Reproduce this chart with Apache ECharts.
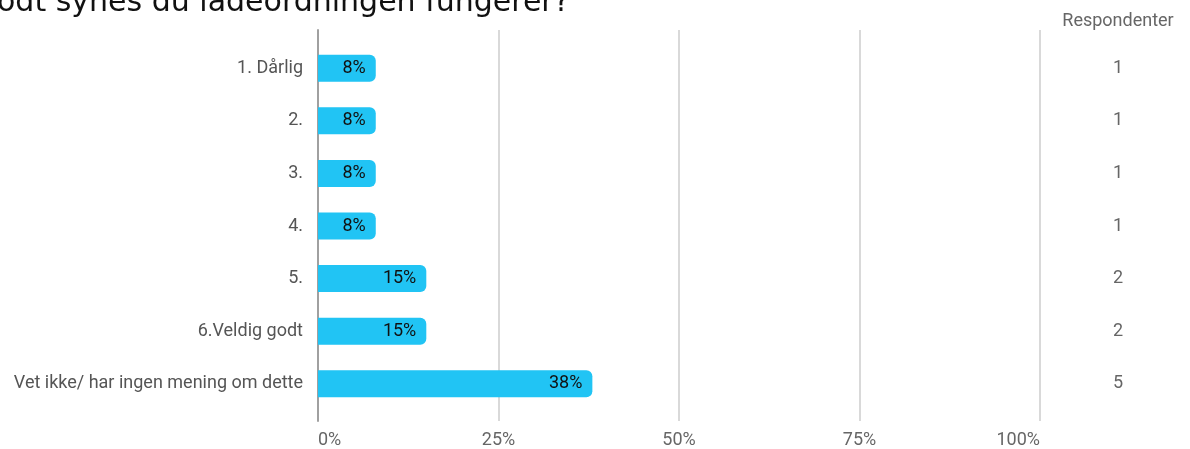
<!DOCTYPE html>
<html>
<head>
<meta charset="utf-8">
<style>
  html, body { margin: 0; padding: 0; background: #fff; }
  #chart { width: 1190px; height: 449px; }
</style>
<script src="https://cdn.jsdelivr.net/npm/echarts@6/dist/echarts.min.js"></script>
</head>
<body>
<div id="chart"></div>
<script>
// Survey answers, share of respondents (%) and respondent counts
const categories = [
  '1. Dårlig',
  '2.',
  '3.',
  '4.',
  '5.',
  '6.Veldig godt',
  'Vet ikke/ har ingen mening om dette'
];
const percentValues = [8, 8, 8, 8, 15, 15, 38];
const respondentCounts = [1, 1, 1, 1, 2, 2, 5];
const percentTicks = [0, 25, 50, 75, 100];

const titleText = 'odt synes du ladeordningen fungerer?';
const countHeader = 'Respondenter';

const chart = echarts.init(document.getElementById('chart'), null, { renderer: 'canvas' });

const font = 'Roboto, sans-serif';

chart.setOption({
  animation: false,
  backgroundColor: '#ffffff',
  grid: [
    // frame grid: vertical gridlines and percent labels
    { left: 318, right: 150, top: 30, bottom: 27 },
    // bar grid
    { left: 318, right: 150, top: 42, bottom: 39 }
  ],
  xAxis: [
    {
      gridIndex: 0,
      type: 'value',
      min: percentTicks[0],
      max: percentTicks[percentTicks.length - 1],
      interval: percentTicks[1] - percentTicks[0],
      axisLine: { show: false },
      axisTick: { show: false },
      splitLine: { show: true, lineStyle: { color: '#cccccc', width: 1.5 } },
      axisLabel: {
        formatter: '{value}%',
        color: '#666666',
        fontFamily: font,
        fontSize: 18,
        margin: 10,
        alignMinLabel: 'left',
        alignMaxLabel: 'right'
      }
    },
    {
      gridIndex: 1,
      type: 'value',
      min: percentTicks[0],
      max: percentTicks[percentTicks.length - 1],
      show: false
    }
  ],
  yAxis: [
    {
      gridIndex: 0,
      type: 'value',
      min: 0,
      max: 1,
      axisLine: { show: true, lineStyle: { color: '#a0a0a0', width: 2 } },
      axisTick: { show: false },
      axisLabel: { show: false },
      splitLine: { show: false }
    },
    {
      gridIndex: 1,
      type: 'category',
      inverse: true,
      data: categories,
      axisLine: { show: false },
      axisTick: { show: false },
      splitLine: { show: false },
      axisLabel: {
        color: '#555555',
        fontFamily: font,
        fontSize: 18,
        margin: 15
      }
    },
    {
      gridIndex: 1,
      type: 'category',
      inverse: true,
      position: 'right',
      data: respondentCounts.map(String),
      axisLine: { show: false },
      axisTick: { show: false },
      splitLine: { show: false },
      axisLabel: {
        color: '#666666',
        fontFamily: font,
        fontSize: 18,
        align: 'center',
        margin: 78
      }
    }
  ],
  series: [
    {
      type: 'bar',
      xAxisIndex: 1,
      yAxisIndex: 1,
      data: percentValues,
      barWidth: 27,
      itemStyle: { color: '#21c4f4', borderRadius: [0, 6, 6, 0] },
      label: {
        show: true,
        position: 'insideRight',
        formatter: '{c}%',
        color: '#111111',
        fontFamily: font,
        fontSize: 18,
        distance: 10
      }
    }
  ],
  graphic: [
    {
      type: 'text',
      left: -3,
      top: -12,
      style: {
        text: titleText,
        fontFamily: '"DejaVu Sans", sans-serif',
        fontSize: 30,
        fill: '#111111'
      }
    },
    {
      type: 'text',
      x: 1118,
      y: 21,
      style: {
        text: countHeader,
        fontFamily: font,
        fontSize: 18,
        fill: '#666666',
        align: 'center',
        verticalAlign: 'middle'
      }
    }
  ]
});
</script>
</body>
</html>
